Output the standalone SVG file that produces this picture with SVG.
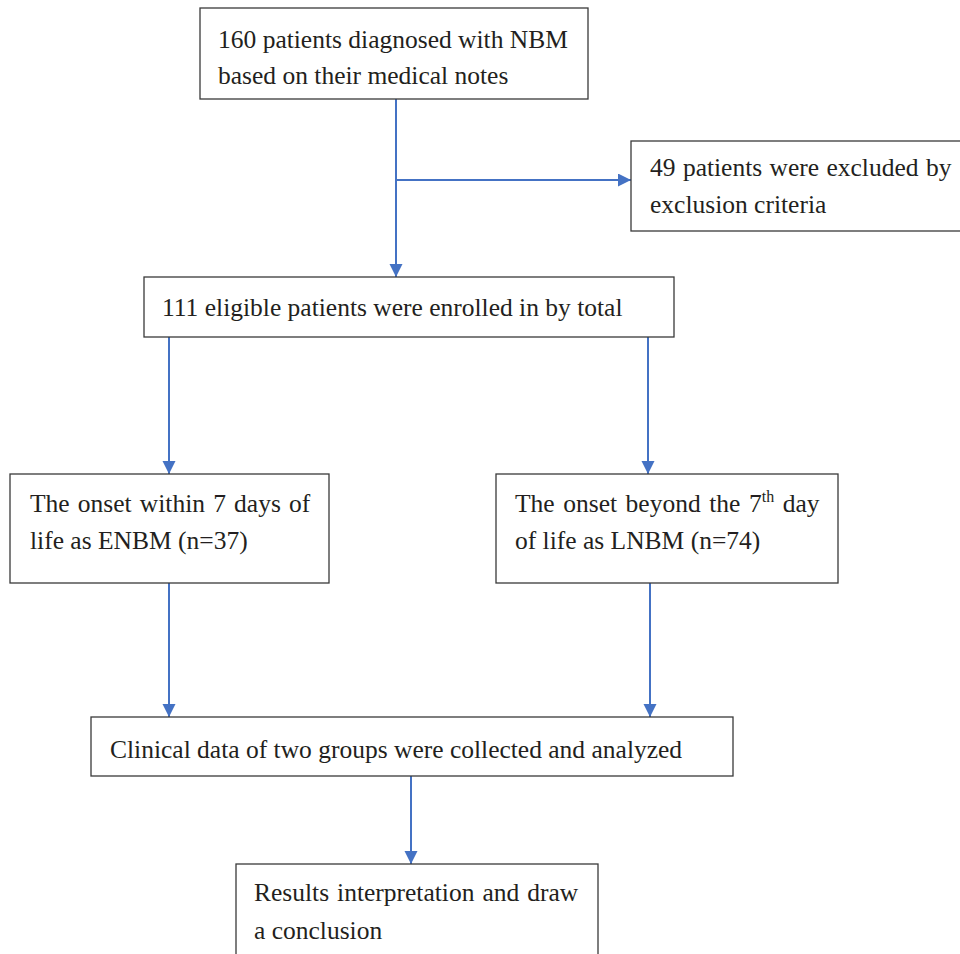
<svg xmlns="http://www.w3.org/2000/svg" width="960" height="954" viewBox="0 0 960 954">
<defs>
<marker id="arr" markerUnits="userSpaceOnUse" markerWidth="14" markerHeight="14" refX="13" refY="6.5" orient="auto">
<path d="M0,0 L13,6.5 L0,13 z" fill="#4472C4"/>
</marker>
<style>
.box{fill:#ffffff;stroke:#3a3a3a;stroke-width:1.3}
.t{font-family:"Liberation Serif","Times New Roman",serif;font-size:25.5px;fill:#231F20}
.c{fill:none;stroke:#4472C4;stroke-width:2}
</style>
</defs>
<rect width="960" height="954" fill="#ffffff"/>
<g id="connectors">
<line class="c" x1="396" y1="99" x2="396" y2="277" marker-end="url(#arr)"/>
<line class="c" x1="396" y1="180" x2="631" y2="180" marker-end="url(#arr)"/>
<line class="c" x1="169" y1="337" x2="169" y2="474" marker-end="url(#arr)"/>
<line class="c" x1="648" y1="337" x2="648" y2="474" marker-end="url(#arr)"/>
<line class="c" x1="169" y1="583" x2="169" y2="717" marker-end="url(#arr)"/>
<line class="c" x1="650" y1="583" x2="650" y2="717" marker-end="url(#arr)"/>
<line class="c" x1="411" y1="776" x2="411" y2="864" marker-end="url(#arr)"/>
</g>
<g id="n1">
<rect class="box" x="200" y="8" width="388" height="91"/>
<text class="t" x="218" y="48">160 patients diagnosed with NBM</text>
<text class="t" x="218" y="84">based on their medical notes</text>
</g>
<g id="n2">
<rect class="box" x="631" y="141" width="340" height="90"/>
<text class="t" x="650" y="176" word-spacing="1">49 patients were excluded by</text>
<text class="t" x="650" y="213">exclusion criteria</text>
</g>
<g id="n3">
<rect class="box" x="144" y="277" width="530" height="60"/>
<text class="t" x="162" y="316">111 eligible patients were enrolled in by total</text>
</g>
<g id="n4">
<rect class="box" x="10" y="474" width="319" height="109"/>
<text class="t" x="30" y="512" word-spacing="1.8">The onset within 7 days of</text>
<text class="t" x="30" y="549">life as ENBM (n=37)</text>
</g>
<g id="n5">
<rect class="box" x="496" y="474" width="342" height="109"/>
<text class="t" x="515" y="512" word-spacing="2.2">The onset beyond the 7<tspan font-size="16" dy="-10">th</tspan><tspan dy="10"> day</tspan></text>
<text class="t" x="515" y="549">of life as LNBM (n=74)</text>
</g>
<g id="n6">
<rect class="box" x="91" y="717" width="642" height="59"/>
<text class="t" x="110" y="758">Clinical data of two groups were collected and analyzed</text>
</g>
<g id="n7">
<rect class="box" x="236" y="864" width="362" height="110"/>
<text class="t" x="254" y="901" word-spacing="1.6">Results interpretation and draw</text>
<text class="t" x="254" y="939">a conclusion</text>
</g>
</svg>
